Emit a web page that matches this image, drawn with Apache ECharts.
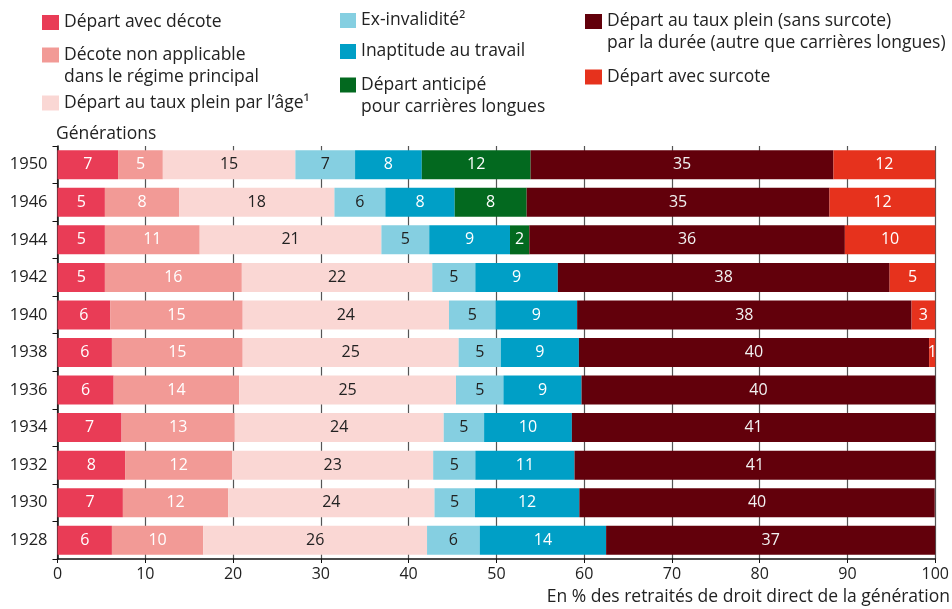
<!DOCTYPE html>
<html>
<head>
<meta charset="utf-8">
<script src="https://cdn.jsdelivr.net/npm/echarts@6/dist/echarts.min.js"></script>
<style>html,body{margin:0;padding:0;background:#fff}#c{width:952px;height:609px}</style>
</head>
<body>
<div id="c"></div>
<script>
const generations = ['1950','1946','1944','1942','1940','1938','1936','1934','1932','1930','1928'];
const xTicks = [0,10,20,30,40,50,60,70,80,90,100];
const seriesNames = [
  'Départ avec décote',
  'Décote non applicable dans le régime principal',
  'Départ au taux plein par l’âge¹',
  'Ex-invalidité²',
  'Inaptitude au travail',
  'Départ anticipé pour carrières longues',
  'Départ au taux plein (sans surcote) par la durée (autre que carrières longues)',
  'Départ avec surcote'
];
const legendLines = [
  ['Départ avec décote'],
  ['Décote non applicable', 'dans le régime principal'],
  ['Départ au taux plein par l’âge¹'],
  ['Ex-invalidité²'],
  ['Inaptitude au travail'],
  ['Départ anticipé', 'pour carrières longues'],
  ['Départ au taux plein (sans surcote)', 'par la durée (autre que carrières longues)'],
  ['Départ avec surcote']
];
const decote          = [6.9, 5.4, 5.4, 5.4, 6.0, 6.2, 6.4, 7.3, 7.7, 7.45, 6.2];
const decoteNonAppl   = [5.1, 8.45, 10.8, 15.6, 15.1, 14.9, 14.3, 12.9, 12.2, 12.0, 10.4];
const tauxPleinAge    = [15.1, 17.7, 20.7, 21.7, 23.5, 24.6, 24.7, 23.8, 22.9, 23.5, 25.5];
const exInvalidite    = [6.8, 5.8, 5.45, 4.9, 5.3, 4.8, 5.4, 4.6, 4.8, 4.6, 6.0];
const inaptitude      = [7.6, 7.9, 9.2, 9.4, 9.3, 8.9, 8.9, 10.0, 11.3, 11.9, 14.4];
const carrieresLongues= [12.4, 8.2, 2.2, null, null, null, null, null, null, null, null];
const tauxPleinDuree  = [34.5, 34.5, 35.95, 37.8, 38.1, 39.9, 40.3, 41.4, 41.1, 40.49, 37.49];
const surcote         = [11.6, 12.05, 10.3, 5.2, 2.7, 0.7, null, null, null, null, null];

const seriesData = [decote, decoteNonAppl, tauxPleinAge, exInvalidite, inaptitude, carrieresLongues, tauxPleinDuree, surcote];
const colors = ['#E93C56', '#F29A96', '#FAD7D4', '#85CFE1', '#009FC6', '#03691F', '#62000B', '#E6321D'];
const labelColors = ['#fff', '#fff', '#222', '#222', '#fff', '#fff', '#f2f2f2', '#fff'];

const FONT = '"Open Sans"';
const FS = 16;
const FS_TXT = 17.5;
const LH = 22;
// legend placement: [left, center y of first line, icon width]
const legendPos = [
  [42, 22.5, 17], [42, 55, 17], [42, 103, 17],
  [340, 20.5, 16], [340, 51.5, 16], [340, 85, 16],
  [585, 21.5, 17], [585, 77, 17]
];

const legends = seriesNames.map((name, i) => {
  const lines = legendLines[i];
  const multi = lines.length > 1;
  const [left, cy, iw] = legendPos[i];
  return {
    data: [name],
    left: left,
    top: multi ? cy - 1.5 * LH : cy - LH / 2,
    padding: 0,
    itemWidth: iw,
    itemHeight: 15,
    icon: 'rect',
    selectedMode: false,
    formatter: () => multi ? '\n' + lines.join('\n') : lines[0],
    textStyle: { fontFamily: FONT, fontSize: FS_TXT, lineHeight: LH, color: '#222' }
  };
});

const chart = echarts.init(document.getElementById('c'), null, { renderer: 'canvas' });
chart.setOption({
  animation: false,
  color: colors,
  title: [
    { text: 'Générations', left: 56, top: 125, padding: 0,
      textStyle: { fontFamily: FONT, fontSize: FS_TXT, fontWeight: 'normal', color: '#222' } },
    { text: 'En % des retraités de droit direct de la génération', right: 2, top: 588, padding: 0,
      textStyle: { fontFamily: FONT, fontSize: FS_TXT, fontWeight: 'normal', color: '#222' } }
  ],
  legend: legends,
  grid: { left: 57.5, right: 15.5, top: 146, bottom: 50, containLabel: false },
  xAxis: {
    type: 'value', min: 0, max: 100, interval: 10,
    axisLine: { show: true, lineStyle: { color: '#111', width: 1.5 } },
    axisTick: { show: true, length: 4, lineStyle: { color: '#111' } },
    axisLabel: { fontFamily: FONT, fontSize: FS, color: '#222', margin: 7,
      formatter: v => xTicks.includes(v) ? String(v) : '' },
    splitLine: { show: true, lineStyle: { color: '#555', width: 1.2 } }
  },
  yAxis: {
    type: 'category', data: generations, inverse: true,
    axisLine: { show: true, lineStyle: { color: '#111', width: 1.5 } },
    axisTick: { show: true, length: 5, inside: false, lineStyle: { color: '#111' } },
    axisLabel: { fontFamily: FONT, fontSize: 16.5, color: '#222', margin: 10 }
  },
  series: seriesNames.map((name, i) => ({
    name: name,
    type: 'bar',
    stack: 'total',
    barWidth: 29,
    data: seriesData[i],
    itemStyle: { color: colors[i] },
    label: {
      show: true, position: 'inside',
      fontFamily: FONT, fontSize: FS, color: labelColors[i],
      formatter: p => (p.value == null ? '' : String(Math.round(p.value)))
    },
    emphasis: { disabled: true }
  }))
});
</script>
</body>
</html>
